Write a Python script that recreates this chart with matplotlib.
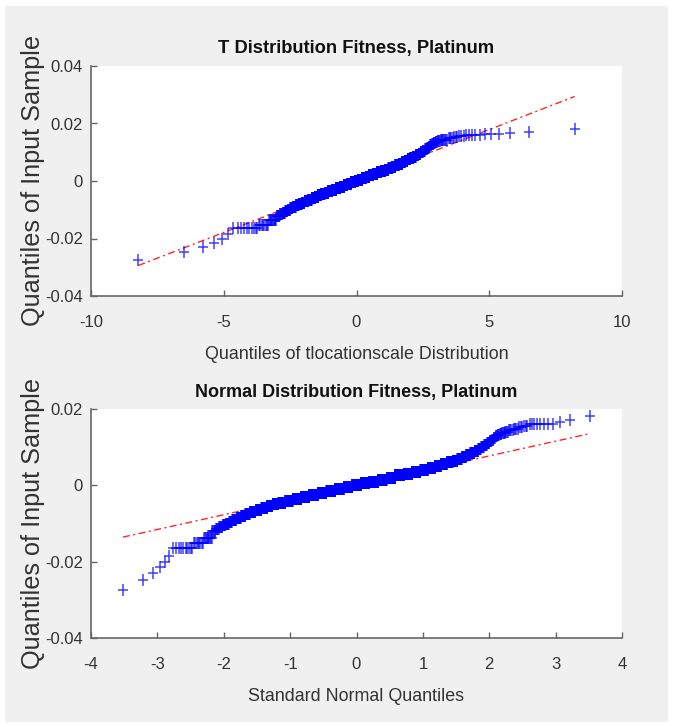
import numpy as np
import matplotlib
matplotlib.use("Agg")
import matplotlib.pyplot as plt
from matplotlib.path import Path
from matplotlib.patches import Rectangle
from statistics import NormalDist

# Daily fitness returns, platinum: distinct values and how often each occurs
sample_values = [
    -0.0275, -0.0248, -0.0229, -0.0214, -0.0200, -0.0186, -0.0164, -0.0152, -0.0137,
    -0.0120, -0.0115, -0.0110, -0.0105, -0.0100, -0.0095, -0.0090, -0.0085, -0.0080,
    -0.0075, -0.0070, -0.0065, -0.0060, -0.0055, -0.0050, -0.0045, -0.0040, -0.0035,
    -0.0030, -0.0026, -0.0020, -0.0015, -0.0010, -0.0005, 0.0000, 0.0005, 0.0010,
    0.0015, 0.0020, 0.0026, 0.0030, 0.0035, 0.0040, 0.0045, 0.0050, 0.0055, 0.0060,
    0.0065, 0.0070, 0.0075, 0.0080, 0.0085, 0.0090, 0.0095, 0.0100, 0.0105, 0.0110,
    0.0115, 0.0120, 0.0125, 0.0130,
    0.0132, 0.0135, 0.0138, 0.0141, 0.0144, 0.0148, 0.0152, 0.0156, 0.0160, 0.0162,
    0.0166, 0.0171, 0.0182,
]
sample_counts = [
    1, 1, 1, 1, 1, 1, 10, 8, 10,
    5, 5, 6, 6, 7, 7, 11, 13, 14,
    16, 23, 27, 30, 33, 38, 50, 61, 77,
    85, 96, 104, 110, 115, 118, 118, 118, 115,
    110, 104, 96, 85, 77, 61, 52, 39, 35, 30,
    21, 18, 16, 14, 13, 10, 7, 7, 6, 5,
    4, 3, 3, 3,
    3, 3, 4, 4, 4, 4, 3, 3, 5, 3,
    1, 1, 1,
]

t_dof = 5
titles = ["T Distribution Fitness, Platinum", "Normal Distribution Fitness, Platinum"]
xlabels = ["Quantiles of tlocationscale Distribution", "Standard Normal Quantiles"]
ylabel = "Quantiles of Input Sample"
xlims = [(-10, 10), (-4, 4)]
xticks = [[-10, -5, 0, 5, 10], [-4, -3, -2, -1, 0, 1, 2, 3, 4]]
ylims = [(-0.04, 0.04), (-0.04, 0.02)]
yticks = [[-0.04, -0.02, 0, 0.02, 0.04], [-0.04, -0.02, 0, 0.02]]
ytick_labels = [["-0.04", "-0.02", "0", "0.02", "0.04"], ["-0.04", "-0.02", "0", "0.02"]]

# sorted sample and plotting positions
data = np.sort(np.repeat(sample_values, sample_counts))
n = data.size
prob = (np.arange(1, n + 1) - 0.5) / n

# standard normal quantiles
std_normal = NormalDist()
norm_q = np.array([std_normal.inv_cdf(v) for v in prob])


def t5_cdf(t):
    th = np.arctan(t / np.sqrt(t_dof))
    return 0.5 + (th + np.sin(th) * np.cos(th) * (1 + (2.0 / 3.0) * np.cos(th) ** 2)) / np.pi


grid = np.linspace(-80, 80, 400001)
cdf_grid = t5_cdf(grid)


def t5_ppf(pp):
    return np.interp(pp, cdf_grid, grid)


t_q = t5_ppf(prob)

q1, q3 = np.percentile(data, [25, 75])
theo = [
    (t_q, t5_ppf(np.array([0.25, 0.75]))),
    (norm_q, np.array([std_normal.inv_cdf(0.25), std_normal.inv_cdf(0.75)])),
]

# '+' marker, horizontal arm a bit shorter than the vertical one
plus = Path([(-0.38, 0), (0.38, 0), (0, -0.5), (0, 0.5)],
            [Path.MOVETO, Path.LINETO, Path.MOVETO, Path.LINETO])

W, H = 673, 727
fig = plt.figure(figsize=(W / 100, H / 100), dpi=100, facecolor="white")
fig.patches.append(Rectangle((5 / W, 1 - 722 / H), 663 / W, 716 / H,
                             transform=fig.transFigure, facecolor="#f0f0f0",
                             edgecolor="none", zorder=-10))

font = ["Liberation Sans", "DejaVu Sans"]
axes_px = [(91, 66, 622, 296), (91, 409, 622, 638)]
title_sizes = [13.2, 13.0]
xlabel_sizes = [12.85, 12.9]

for k, (l, t, r, b) in enumerate(axes_px):
    ax = fig.add_axes([l / W, 1 - b / H, (r - l) / W, (b - t) / H])
    ax.set_facecolor("white")
    xq, (x1, x3) = theo[k]
    slope = (q3 - q1) / (x3 - x1)
    icpt = q1 - slope * x1
    xs = np.array([xq.min(), xq.max()])
    ax.plot(xs, icpt + slope * xs, color="red", lw=1.0,
            linestyle=(0, (5, 2.5, 1.5, 2.5)), zorder=2, alpha=0.85)
    ax.plot(xq, data, linestyle="none", marker=plus, markersize=8.9,
            markeredgewidth=1.1, color="#0000ff", alpha=0.75, zorder=3)
    ax.set_xlim(*xlims[k])
    ax.set_ylim(*ylims[k])
    ax.set_xticks(xticks[k])
    ax.set_xticklabels([str(v) for v in xticks[k]], family=font, fontsize=12, color="#333333")
    ax.set_yticks(yticks[k])
    ax.set_yticklabels(ytick_labels[k], family=font, fontsize=12, color="#333333")
    for side in ("top", "right"):
        ax.spines[side].set_visible(False)
    for side in ("left", "bottom"):
        ax.spines[side].set_color("#666666")
        ax.spines[side].set_linewidth(1.2)
    ax.tick_params(direction="in", length=4, width=1, color="#666666")
    ax.tick_params(axis="x", pad=14)
    ax.tick_params(axis="y", pad=6)
    ax.set_title(titles[k], family=font, fontsize=title_sizes[k], fontweight="bold",
                 color="#111111", pad=9)
    ax.set_xlabel(xlabels[k], family=font, fontsize=xlabel_sizes[k], color="#333333",
                  labelpad=11)
    ax.set_ylabel(ylabel, family=font, fontsize=18.2, color="#333333", labelpad=0)

fig.savefig("out.png", dpi=100, facecolor="white")
